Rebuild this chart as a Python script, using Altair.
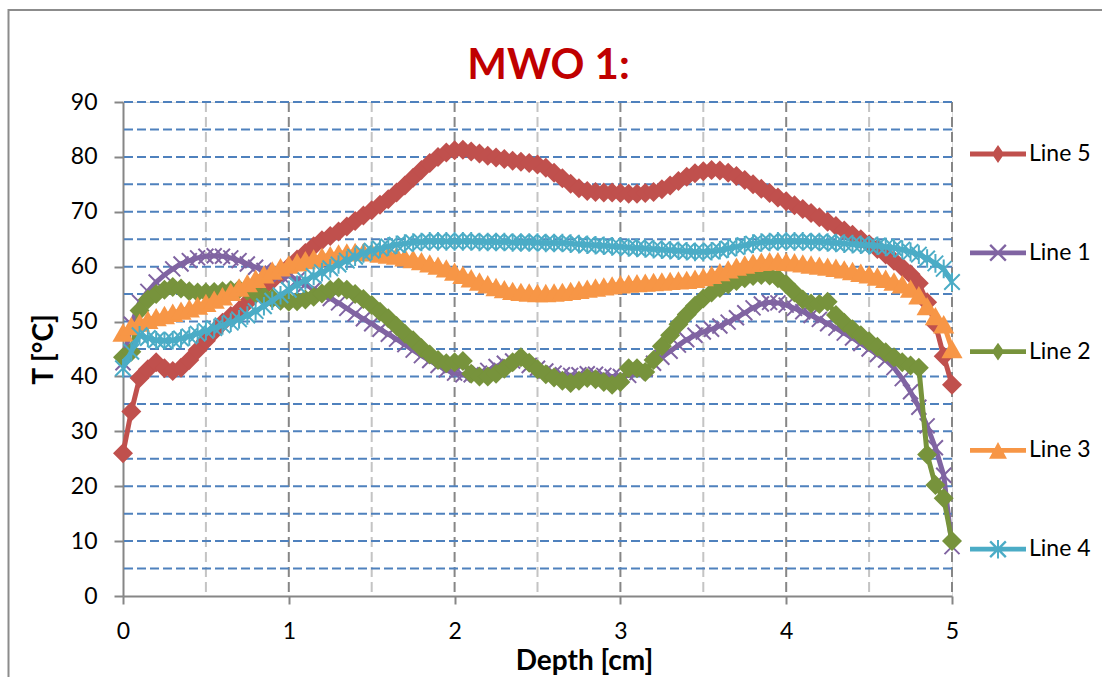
import altair as alt
import pandas as pd

depth = [0.00, 0.05, 0.10, 0.15, 0.20, 0.25, 0.30, 0.35, 0.40, 0.45,
         0.50, 0.55, 0.60, 0.65, 0.70, 0.75, 0.80, 0.85, 0.90, 0.95,
         1.00, 1.05, 1.10, 1.15, 1.20, 1.25, 1.30, 1.35, 1.40, 1.45,
         1.50, 1.55, 1.60, 1.65, 1.70, 1.75, 1.80, 1.85, 1.90, 1.95,
         2.00, 2.05, 2.10, 2.15, 2.20, 2.25, 2.30, 2.35, 2.40, 2.45,
         2.50, 2.55, 2.60, 2.65, 2.70, 2.75, 2.80, 2.85, 2.90, 2.95,
         3.00, 3.05, 3.10, 3.15, 3.20, 3.25, 3.30, 3.35, 3.40, 3.45,
         3.50, 3.55, 3.60, 3.65, 3.70, 3.75, 3.80, 3.85, 3.90, 3.95,
         4.00, 4.05, 4.10, 4.15, 4.20, 4.25, 4.30, 4.35, 4.40, 4.45,
         4.50, 4.55, 4.60, 4.65, 4.70, 4.75, 4.80, 4.85, 4.90, 4.95,
         5.00]

line5 = [26.0, 33.6, 39.7, 41.3, 42.6, 41.5, 41.0, 41.6, 43.0, 44.8,
         46.5, 48.2, 49.8, 51.0, 52.0, 53.5, 55.0, 56.3, 57.5, 58.8,
         60.0, 61.3, 62.5, 63.7, 64.8, 65.6, 66.4, 67.3, 68.3, 69.3,
         70.3, 71.3, 72.3, 73.5, 74.8, 76.2, 77.6, 78.9, 80.0, 80.8,
         81.2, 81.3, 81.0, 80.6, 80.2, 79.9, 79.6, 79.3, 79.1, 78.9,
         78.6, 78.0, 77.1, 76.1, 75.1, 74.3, 73.8, 73.6, 73.5, 73.5,
         73.4, 73.3, 73.3, 73.4, 73.6, 74.1, 74.8, 75.6, 76.4, 77.0,
         77.4, 77.6, 77.5, 77.1, 76.5, 75.8, 75.0, 74.2, 73.4, 72.6,
         71.9, 71.2, 70.5, 69.8, 69.0, 68.2, 67.4, 66.6, 65.8, 65.0,
         64.1, 63.2, 62.2, 61.1, 59.9, 58.6, 57.0, 53.5, 49.5, 43.7,
         38.5]

line1 = [42.5, 49.5, 53.5, 55.5, 57.2, 58.5, 59.6, 60.5, 61.1, 61.6,
         61.9, 62.0, 61.9, 61.6, 61.1, 60.5, 59.9, 59.3, 58.8, 58.5,
         58.3, 57.6, 56.8, 55.9, 55.0, 54.2, 53.4, 52.4, 51.4, 50.5,
         49.6, 48.6, 47.7, 46.8, 45.8, 44.8, 43.8, 42.9, 42.0, 41.2,
         40.6, 40.3, 40.3, 40.6, 41.1, 41.8, 42.4, 42.8, 42.6, 42.0,
         41.5, 41.0, 40.6, 40.3, 40.2, 40.3, 40.5, 40.4, 40.2, 40.0,
         40.0, 40.2, 40.7, 41.4, 42.4, 43.5, 44.6, 45.7, 46.7, 47.5,
         48.1, 48.6, 49.2, 49.9, 50.7, 51.6, 52.5, 53.2, 53.5, 53.4,
         53.0, 52.4, 51.8, 51.1, 50.4, 49.6, 48.8, 47.9, 47.0, 46.0,
         45.0, 44.0, 43.0, 41.6, 39.6, 37.2, 34.4, 31.0, 27.0, 22.0,
         9.0]

line2 = [43.5, 44.5, 52.0, 54.0, 55.0, 55.8, 56.3, 56.0, 55.5, 55.3,
         55.3, 55.4, 55.5, 55.7, 55.9, 55.6, 55.1, 54.6, 54.2, 53.8,
         53.6, 53.7, 54.0, 54.5, 55.1, 55.8, 56.2, 55.8, 55.0, 54.1,
         53.0, 51.8, 50.6, 49.2, 47.8, 46.6, 45.2, 44.0, 43.0, 42.4,
         42.6, 42.8, 40.5, 40.0, 40.0, 40.5, 41.4, 42.6, 43.5, 42.5,
         41.3, 40.4, 39.8, 39.2, 38.8, 39.2, 39.7, 39.5, 39.0, 38.5,
         39.0, 41.5, 41.5, 40.8, 43.0, 45.5, 47.5, 49.5, 51.3, 52.9,
         54.2, 55.3, 56.1, 56.8, 57.4, 57.9, 58.3, 58.5, 58.4, 57.9,
         56.8, 55.3, 54.0, 53.3, 53.2, 53.6, 51.2, 49.8, 48.6, 47.5,
         46.4, 45.4, 44.4, 43.5, 42.6, 42.0, 41.6, 25.8, 20.2, 17.8,
         10.0]

line3 = [48.0, 49.2, 49.8, 50.3, 50.8, 51.2, 51.6, 52.0, 52.4, 52.9,
         53.4, 54.0, 54.6, 55.4, 56.2, 57.0, 57.8, 58.6, 59.3, 59.9,
         60.4, 60.8, 61.2, 61.5, 61.8, 62.1, 62.4, 62.6, 62.7, 62.7,
         62.6, 62.4, 62.2, 62.0, 61.7, 61.4, 61.0, 60.6, 60.2, 59.7,
         59.1, 58.5, 57.9, 57.3, 56.8, 56.3, 55.9, 55.6, 55.4, 55.3,
         55.2, 55.2, 55.3, 55.4, 55.6, 55.8, 56.0, 56.2, 56.4, 56.6,
         56.8, 56.9, 57.0, 57.1, 57.2, 57.3, 57.4, 57.5, 57.6, 57.8,
         58.1, 58.5, 59.0, 59.5, 60.0, 60.4, 60.7, 60.9, 61.0, 61.0,
         60.9, 60.8, 60.6, 60.4, 60.2, 60.0, 59.8, 59.5, 59.2, 58.9,
         58.6, 58.2, 57.8, 57.3, 56.8, 56.0, 54.8, 52.8, 51.0, 49.5,
         45.0]

line4 = [41.5, 44.5, 47.5, 47.0, 46.6, 46.5, 46.6, 46.9, 47.3, 47.8,
         48.3, 48.8, 49.3, 49.8, 50.4, 51.1, 51.9, 52.8, 53.8, 54.8,
         55.8, 56.7, 57.5, 58.3, 59.0, 59.7, 60.4, 61.1, 61.8, 62.4,
         62.9, 63.3, 63.7, 64.0, 64.2, 64.4, 64.5, 64.6, 64.6, 64.6,
         64.6, 64.6, 64.6, 64.5, 64.5, 64.5, 64.5, 64.4, 64.4, 64.4,
         64.4, 64.3, 64.3, 64.3, 64.2, 64.1, 64.0, 63.9, 63.8, 63.7,
         63.6, 63.5, 63.4, 63.3, 63.2, 63.1, 63.0, 62.9, 62.8, 62.7,
         62.7, 62.8, 63.0, 63.3, 63.6, 63.9, 64.2, 64.4, 64.5, 64.6,
         64.6, 64.6, 64.6, 64.5, 64.5, 64.4, 64.3, 64.2, 64.1, 64.0,
         63.9, 63.8, 63.6, 63.4, 63.1, 62.7, 62.2, 61.5, 60.6, 59.6,
         57.2]

names = ["Line 5", "Line 1", "Line 2", "Line 3", "Line 4"]
colors = ["#C0504D", "#8064A2", "#77933C", "#F79646", "#4BACC6"]
values = {"Line 5": line5, "Line 1": line1, "Line 2": line2,
          "Line 3": line3, "Line 4": line4}

y_ticks = [0, 10, 20, 30, 40, 50, 60, 70, 80, 90]
x_ticks = [0, 1, 2, 3, 4, 5]
y_grid = [5, 10, 15, 20, 25, 30, 35, 40, 45, 50, 55, 60, 65, 70, 75, 80, 85, 90]
x_grid_half = [0.5, 1.5, 2.5, 3.5, 4.5]
x_grid_whole = [1, 2, 3, 4, 5]

# marker shapes in the plot
X_PATH = "M-1,-1L1,1M-1,1L1,-1"
STAR_PATH = "M-1,-1L1,1M-1,1L1,-1M0,-1.2L0,1.2"
marker_shapes = ["diamond", X_PATH, "diamond", "triangle-up", STAR_PATH]
marker_filled = [True, False, True, True, False]
marker_sizes = [400, 225, 400, 450, 240]

# legend symbols (filled outlines only): a line segment with the marker on it
BAR = "M-1,-0.085L-1,0.085L1,0.085L1,-0.085Z"
DIAMOND = "M-0.22,0L0,0.32L0.22,0L0,-0.32Z"
XARMS = "M-0.31,-0.25L0.25,0.31L0.31,0.25L-0.25,-0.31Z" + "M-0.25,0.31L0.31,-0.25L0.25,-0.31L-0.31,0.25Z"
TRI = "M0,-0.3L-0.32,0.3L0.32,0.3Z"
VBAR = "M-0.035,-0.33L-0.035,0.33L0.035,0.33L0.035,-0.33Z"
legend_paths = [BAR + DIAMOND, BAR + XARMS, BAR + DIAMOND, BAR + TRI, BAR + XARMS + VBAR]

rows = []
for n in names:
    for d, v in zip(depth, values[n]):
        rows.append({"depth": d, "T": v, "series": n})
df = pd.DataFrame(rows)

FONT = "Lato"
GRAY = "#868686"

xscale = alt.Scale(domain=[0, 5], nice=False, zero=False)
yscale = alt.Scale(domain=[0, 90], nice=False, zero=False)

xaxis = alt.Axis(values=x_ticks, grid=False, tickSize=8, tickWidth=2,
                 tickColor=GRAY, domainColor=GRAY, domainWidth=2,
                 labelFont=FONT, labelFontSize=23, labelColor="black",
                 labelPadding=16, labelFlush=False, labelOverlap=False,
                 title="Depth [cm]", titleFont=FONT, titleFontSize=28,
                 titleFontWeight="bold", titleColor="black",
                 titleX=461, titleY=73, titleBaseline="alphabetic",
                 titleAlign="center", titleAngle=0)
yaxis = alt.Axis(values=y_ticks, grid=False, tickSize=9, tickWidth=2,
                 tickColor=GRAY, domainColor=GRAY, domainWidth=2,
                 labelFont=FONT, labelFontSize=23, labelColor="black",
                 labelPadding=17, labelOverlap=False,
                 title="T [°C]", titleFont=FONT, titleFontSize=28,
                 titleFontWeight="bold", titleColor="black",
                 titleX=-71, titleY=247, titleBaseline="alphabetic",
                 titleAlign="center", titleAngle=270)

X = alt.X("depth:Q", scale=xscale, axis=xaxis, title="Depth [cm]")
Y = alt.Y("T:Q", scale=yscale, axis=yaxis, title="T [°C]")

border = alt.Chart(pd.DataFrame({"k": [0]})).mark_rect(
    fillOpacity=0, stroke="#8C8C8C", strokeWidth=2
).encode(x=alt.value(-114.5), x2=alt.value(1000), y=alt.value(-92), y2=alt.value(620))

vgrid_half = alt.Chart(pd.DataFrame({"depth": x_grid_half})).mark_rule(
    color="#C4C4C4", strokeWidth=2, strokeDash=[10, 5]).encode(x=X)
vgrid_whole = alt.Chart(pd.DataFrame({"depth": x_grid_whole})).mark_rule(
    color=GRAY, strokeWidth=2, strokeDash=[10, 5]).encode(x=X)
hgrid = alt.Chart(pd.DataFrame({"T": y_grid})).mark_rule(
    color="#4F81BD", strokeWidth=2, strokeDash=[9, 4]).encode(y=Y)

layers = [border, vgrid_half, vgrid_whole, hgrid]
for i, n in enumerate(names):
    sub = df[df["series"] == n]
    base = alt.Chart(sub)
    ln = base.mark_line(strokeWidth=5, strokeJoin="round", color=colors[i]).encode(x=X, y=Y)
    if marker_filled[i]:
        pt = base.mark_point(filled=True, opacity=1, size=marker_sizes[i],
                             shape=marker_shapes[i], color=colors[i])
    else:
        pt = base.mark_point(filled=False, opacity=1, size=marker_sizes[i],
                             shape=marker_shapes[i], strokeWidth=2, color=colors[i])
    pt = pt.encode(x=X, y=Y)
    layers += [ln, pt]

leg = alt.Legend(title=None, orient="none", legendX=847, legendY=24,
                 symbolSize=3136, symbolStrokeWidth=0, symbolOpacity=1,
                 labelFont=FONT, labelFontSize=23, labelColor="black",
                 labelOffset=3, rowPadding=58.8, padding=0, labelLimit=300)
legend_layer = alt.Chart(pd.DataFrame({"series": names})).mark_point(
    filled=True, opacity=0
).encode(
    color=alt.Color("series:N", scale=alt.Scale(domain=names, range=colors), legend=leg, sort=names),
    shape=alt.Shape("series:N", scale=alt.Scale(domain=names, range=legend_paths), legend=leg, sort=names),
)
layers.append(legend_layer)

chart = alt.layer(*layers).properties(
    width=829, height=494,
    autosize=alt.AutoSizeParams(type="none"),
    padding={"left": 123, "top": 102, "right": 150, "bottom": 81},
    title=alt.TitleParams(text="MWO 1:", font=FONT, fontSize=42, fontWeight="bold",
                          color="#C00000", anchor="middle", frame="group",
                          dx=11, offset=-112, baseline="alphabetic"),
).configure_view(strokeWidth=0).configure(font=FONT)

chart.save("out.html", embed_options={"renderer": "svg", "actions": False})
